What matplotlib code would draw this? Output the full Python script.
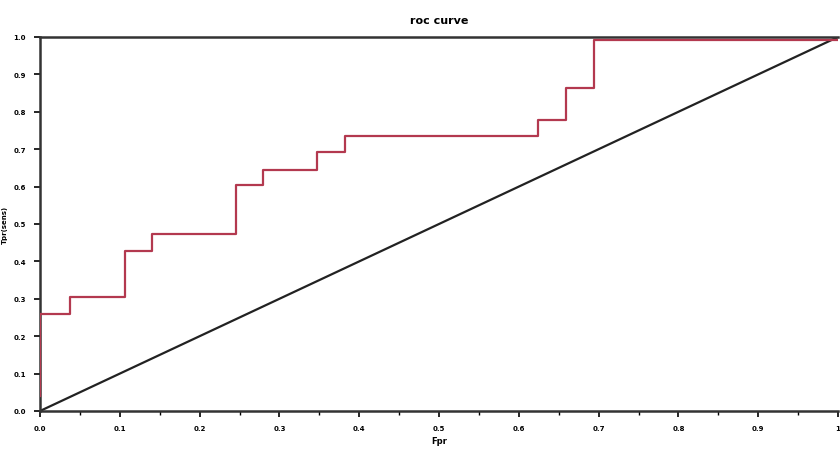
import matplotlib
matplotlib.use('Agg')
import matplotlib.pyplot as plt
import numpy as np

# roc points
fpr = [0.0, 0.0, 0.0376, 0.1065, 0.140, 0.2456, 0.2794, 0.347, 0.382, 0.624, 0.659, 0.694, 1.0]
tpr = [0.040, 0.259, 0.305, 0.428, 0.473, 0.604, 0.644, 0.693, 0.735, 0.778, 0.864, 0.992, 0.992]
diag = [0.0, 1.0]
ticks = np.arange(0, 1.01, 0.1)
x_tick_labels = ['0.0', '0.1', '0.2', '0.3', '0.4', '0.5', '0.6', '0.7', '0.8', '0.9', '1']
y_tick_labels = ['0.0', '0.1', '0.2', '0.3', '0.4', '0.5', '0.6', '0.7', '0.8', '0.9', '1.0']

fig = plt.figure(figsize=(8.4, 4.52), dpi=100)
ax = fig.add_axes([40/840, 40/452, 798/840, 374/452])

ax.step(fpr, tpr, where='post', color='#b3394f', lw=1.6, zorder=3)
ax.plot(diag, diag, color='#222222', lw=1.6, zorder=2)

ax.set_xlim(0, 1)
ax.set_ylim(0, 1)
ax.set_xticks(ticks)
ax.set_xticklabels(x_tick_labels)
ax.set_yticks(ticks)
ax.set_yticklabels(y_tick_labels)
ax.set_xticks(np.arange(0.05, 1.0, 0.1), minor=True)
ax.tick_params(axis='both', labelsize=5, width=1.2, length=4, pad=6)
ax.tick_params(axis='x', which='minor', length=3, width=1)
for lab in ax.get_xticklabels() + ax.get_yticklabels():
    lab.set_fontweight('bold')

for s in ['left', 'bottom', 'top']:
    ax.spines[s].set_linewidth(1.8)
    ax.spines[s].set_color('#333333')
ax.spines['right'].set_visible(False)

ax.set_title('roc curve', fontsize=8, fontweight='bold', pad=10)
ax.set_xlabel('Fpr', fontsize=6, fontweight='bold', labelpad=4)
ax.set_ylabel('Tpr(sens)', fontsize=5, fontweight='bold', labelpad=4)

fig.savefig('out.png', dpi=100)
